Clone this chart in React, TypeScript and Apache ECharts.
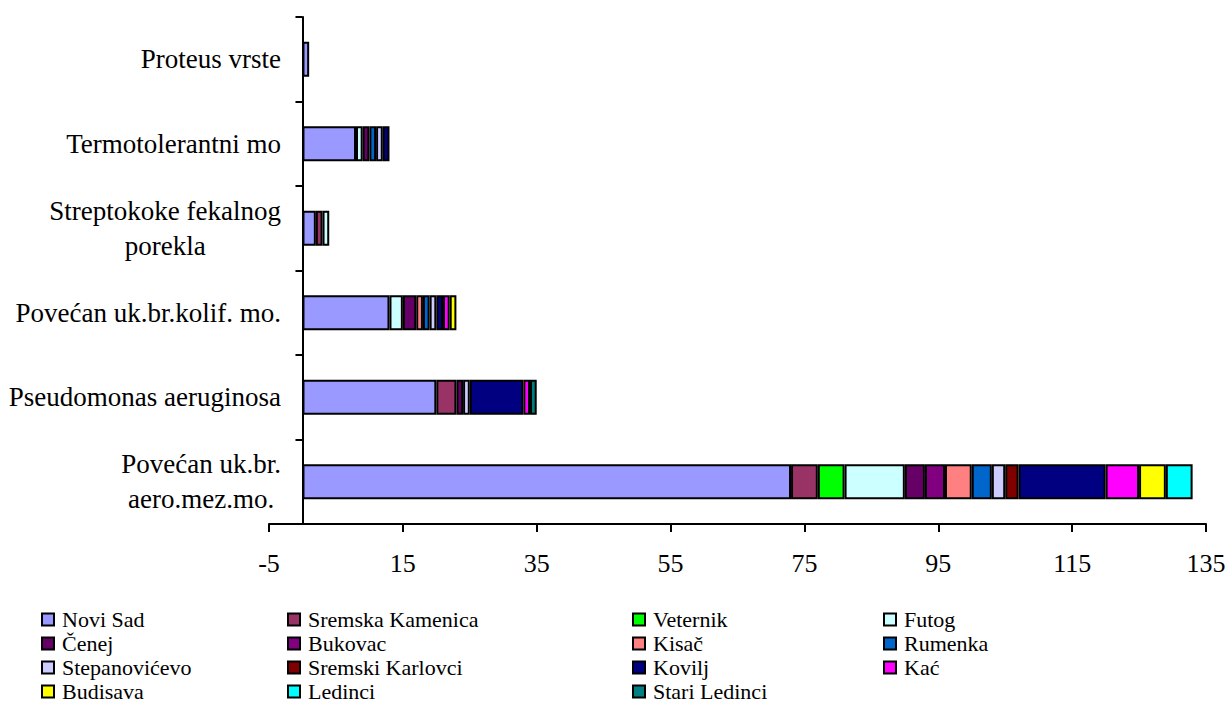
import React, { useEffect, useRef } from "react";
import * as echarts from "echarts";

const categories = [
  "Proteus vrste",
  "Termotolerantni mo",
  "Streptokoke fekalnog\nporekla",
  "Povećan uk.br.kolif. mo.",
  "Pseudomonas aeruginosa",
  "Povećan uk.br.\naero.mez.mo.",
];

const seriesNames = [
  "Novi Sad",
  "Sremska Kamenica",
  "Veternik",
  "Futog",
  "Čenej",
  "Bukovac",
  "Kisač",
  "Rumenka",
  "Stepanovićevo",
  "Sremski Karlovci",
  "Kovilj",
  "Kać",
  "Budisava",
  "Ledinci",
  "Stari Ledinci",
];

const seriesColors = [
  "#9999FF",
  "#993366",
  "#00FF00",
  "#CCFFFF",
  "#660066",
  "#800080",
  "#FF8080",
  "#0066CC",
  "#CCCCFF",
  "#800000",
  "#000080",
  "#FF00FF",
  "#FFFF00",
  "#00FFFF",
  "#008080",
];

const noviSad = [1, 8, 2, 13, 20, 73];
const sremskaKamenica = [0, 0, 1, 0, 3, 4];
const veternik = [0, 0, 0, 0, 0, 4];
const futog = [0, 1, 1, 2, 0, 9];
const cenej = [0, 1, 0, 2, 1, 3];
const bukovac = [0, 0, 0, 0, 0, 3];
const kisac = [0, 0, 0, 1, 0, 4];
const rumenka = [0, 1, 0, 1, 0, 3];
const stepanovicevo = [0, 1, 0, 1, 1, 2];
const sremskiKarlovci = [0, 0, 0, 0, 0, 2];
const kovilj = [0, 1, 0, 1, 8, 13];
const kac = [0, 0, 0, 1, 1, 5];
const budisava = [0, 0, 0, 1, 0, 4];
const ledinci = [0, 0, 0, 0, 0, 4];
const stariLedinci = [0, 0, 0, 0, 1, 0];

const seriesValues = [
  noviSad,
  sremskaKamenica,
  veternik,
  futog,
  cenej,
  bukovac,
  kisac,
  rumenka,
  stepanovicevo,
  sremskiKarlovci,
  kovilj,
  kac,
  budisava,
  ledinci,
  stariLedinci,
];

const xTicks = [-5, 15, 35, 55, 75, 95, 115, 135];

const legendColumns = [
  ["Novi Sad", "Čenej", "Stepanovićevo", "Budisava"],
  ["Sremska Kamenica", "Bukovac", "Sremski Karlovci", "Ledinci"],
  ["Veternik", "Kisač", "Kovilj", "Stari Ledinci"],
  ["Futog", "Rumenka", "Kać"],
];

const FONT = "Liberation Serif";

export default function App() {
  const ref = useRef<HTMLDivElement>(null);

  useEffect(() => {
    document.body.style.margin = "0";
    if (!ref.current) return;
    const chart = echarts.init(ref.current, undefined, { renderer: "svg" });

    const legendLefts = [41, 287, 632, 883];
    const legends = legendColumns.map((col, i) => ({
      data: col,
      orient: "vertical",
      left: legendLefts[i],
      top: 608.5,
      height: 140,
      padding: 0,
      itemGap: 2,
      itemWidth: 12,
      itemHeight: 12,
      icon: "rect",
      selectedMode: false,
      itemStyle: { borderColor: "#000", borderWidth: 2 },
      textStyle: {
        fontFamily: FONT,
        fontSize: 22,
        color: "#000",
        lineHeight: 22,
        padding: [0, 0, 0, 3],
      },
    }));

    chart.setOption({
      animation: false,
      backgroundColor: "#fff",
      textStyle: { fontFamily: FONT },
      legend: legends,
      grid: {
        left: 269,
        right: 21,
        top: 17,
        bottom: 179,
        containLabel: false,
        outerBoundsMode: "none",
      },
      xAxis: {
        type: "value",
        min: -5,
        max: 135,
        splitLine: { show: false },
        axisLine: { show: true, lineStyle: { color: "#000", width: 2 } },
        axisTick: {
          show: true,
          length: 8,
          inside: false,
          lineStyle: { color: "#000", width: 2 },
          customValues: xTicks,
        },
        axisLabel: {
          customValues: xTicks,
          fontFamily: FONT,
          fontSize: 26,
          color: "#000",
          margin: 26,
        },
      },
      yAxis: {
        type: "category",
        inverse: true,
        data: categories,
        axisLine: { show: true, onZero: true, lineStyle: { color: "#000", width: 2 } },
        axisTick: {
          show: true,
          length: 7,
          inside: false,
          alignWithLabel: false,
          lineStyle: { color: "#000", width: 2 },
        },
        axisLabel: {
          margin: -12,
          align: "right",
          fontFamily: FONT,
          fontSize: 27,
          color: "#000",
          formatter: (v: string) =>
            v
              .split("\n")
              .map((l) => `{c|${l}}`)
              .join("\n"),
          rich: {
            c: {
              align: "center",
              fontFamily: FONT,
              fontSize: 27,
              lineHeight: 35,
              color: "#000",
            },
          },
        },
      },
      series: seriesNames.map((name, i) => ({
        name,
        type: "bar",
        stack: "total",
        barWidth: 35,
        itemStyle: {
          color: seriesColors[i],
          borderColor: "#000",
          borderWidth: 2,
        },
        emphasis: { disabled: true },
        data: seriesValues[i].map((v) => (v === 0 ? "-" : v)),
      })),
    });

    return () => {
      chart.dispose();
    };
  }, []);

  return <div ref={ref} style={{ width: 1227, height: 703 }} />;
}
